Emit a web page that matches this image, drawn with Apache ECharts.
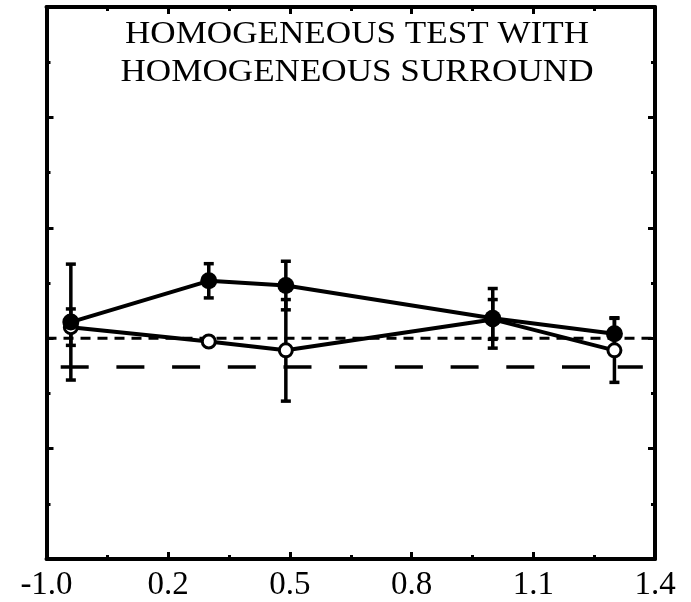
<!DOCTYPE html>
<html>
<head>
<meta charset="utf-8">
<script src="https://cdn.jsdelivr.net/npm/echarts@6/dist/echarts.min.js"></script>
<style>
  html, body { margin: 0; padding: 0; background: #fff; }
  #chart { width: 691px; height: 602px; }
</style>
</head>
<body>
<div id="chart"></div>
<script>
// Tick positions and the labels printed under them
const xMajorTicks = [-0.1, 0.2, 0.5, 0.8, 1.1, 1.4];
const xTickLabels = ['-1.0', '0.2', '0.5', '0.8', '1.1', '1.4'];
const xMinorTicks = [0.05, 0.35, 0.65, 0.95, 1.25];

// Filled circles
const xFilled = [-0.04, 0.30, 0.49, 1.00, 1.30];
const yFilled = [0.146, 0.52, 0.477, 0.18, 0.04];
const errFilled = [0.525, 0.155, 0.22, 0.27, 0.145];

// Open circles
const xOpen = [-0.04, 0.30, 0.49, 1.00, 1.30];
const yOpen = [0.10, -0.03, -0.11, 0.17, -0.11];
const errOpen = [0.165, 0, 0.46, 0.18, 0.29];

// Reference lines: short-dash baseline and long-dash level
const baseLevel = 0;
const longDashLevel = -0.26;
const longDashSpan = [-0.065, 1.37];

const titleLines = ['HOMOGENEOUS TEST WITH', 'HOMOGENEOUS SURROUND'];

const serif = 'Liberation Serif';
const ink = '#000';

function errorRows(xs, ys, es) {
  const rows = [];
  xs.forEach((x, i) => {
    if (es[i] > 0) rows.push([x, ys[i] - es[i], ys[i] + es[i]]);
  });
  return rows;
}

function renderErrorBar(params, api) {
  const x = api.value(0);
  const top = api.coord([x, api.value(2)]);
  const bot = api.coord([x, api.value(1)]);
  const hw = 5;
  const st = { stroke: ink, lineWidth: 3.5 };
  return {
    type: 'group',
    children: [
      { type: 'line', shape: { x1: top[0], y1: top[1], x2: bot[0], y2: bot[1] }, style: st },
      { type: 'line', shape: { x1: top[0] - hw, y1: top[1], x2: top[0] + hw, y2: top[1] }, style: st },
      { type: 'line', shape: { x1: bot[0] - hw, y1: bot[1], x2: bot[0] + hw, y2: bot[1] }, style: st }
    ]
  };
}

function xAxisDef(pos, ticks, len, withLine, withLabels) {
  return {
    type: 'value',
    position: pos,
    min: -0.1,
    max: 1.4,
    axisLine: { show: withLine, onZero: false, lineStyle: { color: ink, width: 4 } },
    axisTick: { show: true, inside: true, length: len, customValues: ticks, lineStyle: { color: ink, width: 3 } },
    axisLabel: withLabels ? {
      show: true,
      customValues: ticks,
      margin: 10,
      color: ink,
      fontFamily: serif,
      fontSize: 33,
      formatter: function (v) {
        const i = xMajorTicks.findIndex(t => Math.abs(t - v) < 1e-9);
        return i >= 0 ? xTickLabels[i] : '';
      }
    } : { show: false },
    splitLine: { show: false }
  };
}

function yAxisDef(pos) {
  return {
    type: 'value',
    position: pos,
    min: -2,
    max: 3,
    interval: 1,
    axisLine: { show: true, onZero: false, lineStyle: { color: ink, width: 4 } },
    axisTick: { show: true, inside: true, length: 7, lineStyle: { color: ink, width: 3 } },
    minorTick: { show: true, splitNumber: 2, length: 4, lineStyle: { color: ink, width: 3 } },
    axisLabel: { show: false },
    splitLine: { show: false },
    minorSplitLine: { show: false }
  };
}

const chart = echarts.init(document.getElementById('chart'), null, { renderer: 'canvas' });

const option = {
  animation: false,
  backgroundColor: '#fff',
  grid: { left: 46.5, right: 36, top: 7, bottom: 42, show: false },
  graphic: titleLines.map((t, i) => ({
    type: 'text',
    x: 357,
    y: 34.5 + i * 37.8,
    scaleX: 1.097,
    silent: true,
    style: {
      text: t,
      fill: ink,
      font: '32px "' + serif + '"',
      align: 'center',
      verticalAlign: 'middle'
    }
  })),
  xAxis: [
    xAxisDef('bottom', xMajorTicks, 7, true, true),
    xAxisDef('bottom', xMinorTicks, 4, false, false),
    xAxisDef('top', xMajorTicks, 7, true, false),
    xAxisDef('top', xMinorTicks, 4, false, false)
  ],
  yAxis: [yAxisDef('left'), yAxisDef('right')],
  series: [
    {
      type: 'line',
      data: [[-0.1, baseLevel], [1.4, baseLevel]],
      symbol: 'none',
      lineStyle: { color: ink, width: 3, type: [10, 7] },
      z: 1
    },
    {
      type: 'line',
      data: [[longDashSpan[0], longDashLevel], [longDashSpan[1], longDashLevel]],
      symbol: 'none',
      lineStyle: { color: ink, width: 3.5, type: [28, 27.7] },
      z: 1
    },
    {
      type: 'custom',
      renderItem: renderErrorBar,
      data: errorRows(xOpen, yOpen, errOpen),
      encode: { x: 0, y: [1, 2] },
      z: 2
    },
    {
      type: 'custom',
      renderItem: renderErrorBar,
      data: errorRows(xFilled, yFilled, errFilled),
      encode: { x: 0, y: [1, 2] },
      z: 2
    },
    {
      type: 'line',
      data: xOpen.map((x, i) => [x, yOpen[i]]),
      symbol: 'circle',
      symbolSize: 13,
      showAllSymbol: true,
      lineStyle: { color: ink, width: 4 },
      itemStyle: { color: '#fff', borderColor: ink, borderWidth: 3 },
      z: 3
    },
    {
      type: 'line',
      data: xFilled.map((x, i) => [x, yFilled[i]]),
      symbol: 'circle',
      symbolSize: 17,
      showAllSymbol: true,
      lineStyle: { color: ink, width: 4 },
      itemStyle: { color: ink, borderColor: ink, borderWidth: 0 },
      z: 4
    }
  ]
};

chart.setOption(option);
</script>
</body>
</html>
